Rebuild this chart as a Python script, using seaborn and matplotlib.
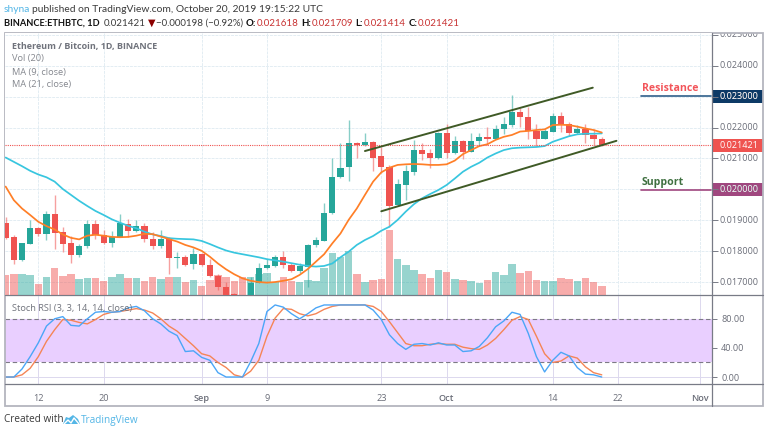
import matplotlib
matplotlib.use('Agg')
import matplotlib.pyplot as plt
from matplotlib.lines import Line2D
from matplotlib.patches import Rectangle, Polygon
import pandas as pd
import seaborn as sns

W, H = 768, 434

# days counted from Aug 12, prices in thousandths of a BTC
days = list(range(-4, 70))
opens = [18.90, 18.45, 17.71, 18.24, 18.75, 18.54, 19.21, 18.62, 18.25, 17.88,
         18.15, 18.88, 18.51, 18.26, 18.47, 18.87, 18.65, 18.81, 18.39, 18.17,
         18.41, 17.79, 17.80, 17.57, 17.91, 17.55, 17.20, 16.85, 16.60, 16.50,
         16.50, 16.98, 17.44, 17.52, 17.81, 17.56, 17.35, 17.50, 18.19, 18.34,
         19.22, 20.39, 20.71, 21.50, 21.42, 21.53, 21.07, 20.73, 19.48, 20.15,
         20.56, 21.26, 21.16, 21.01, 21.82, 21.17, 21.58, 21.22, 21.57, 21.69,
         21.64, 21.94, 22.09, 22.50, 22.35, 21.90, 21.64, 21.87, 22.37, 22.11,
         21.82, 21.95, 21.76, 21.618]
highs = [19.11, 18.53, 18.27, 19.01, 18.77, 19.29, 19.82, 18.77, 18.49, 18.23,
         19.01, 19.01, 18.68, 18.66, 19.20, 19.03, 19.01, 18.90, 18.63, 18.68,
         18.47, 17.98, 17.87, 18.09, 17.93, 17.73, 17.25, 16.99, 16.65, 16.55,
         17.17, 17.60, 17.73, 17.86, 18.00, 17.63, 17.60, 18.23, 18.47, 19.55,
         21.00, 21.51, 22.24, 21.54, 21.81, 21.57, 21.36, 20.79, 20.35, 20.79,
         21.60, 21.51, 21.31, 21.87, 22.11, 21.72, 21.60, 21.81, 21.83, 22.01,
         22.08, 22.33, 23.04, 22.62, 22.67, 22.11, 21.94, 22.48, 22.51, 22.19,
         22.08, 22.10, 21.94, 21.709]
lows = [18.40, 17.57, 17.69, 18.23, 18.50, 18.36, 18.07, 17.98, 17.63, 17.80,
        18.09, 18.39, 18.23, 18.12, 18.45, 18.47, 18.63, 18.31, 18.08, 18.11,
        17.25, 17.44, 17.52, 17.41, 17.52, 17.15, 16.74, 16.40, 16.30, 16.20,
        16.40, 16.96, 17.41, 17.50, 17.47, 17.32, 17.30, 16.85, 18.12, 18.32,
        19.20, 20.37, 20.28, 21.03, 21.40, 20.59, 20.54, 18.79, 19.46, 19.65,
        20.45, 20.95, 20.69, 20.99, 21.00, 21.14, 20.99, 21.21, 21.40, 21.43,
        21.63, 21.79, 22.01, 22.03, 21.63, 21.40, 21.62, 21.84, 21.87, 21.74,
        21.80, 21.51, 21.42, 21.414]
closes = [18.43, 17.71, 18.25, 18.75, 18.55, 19.21, 18.60, 18.23, 17.88, 18.18,
          18.88, 18.51, 18.25, 18.47, 18.90, 18.65, 18.81, 18.38, 18.17, 18.39,
          17.79, 17.80, 17.56, 17.91, 17.54, 17.19, 16.84, 16.50, 16.40, 16.30,
          16.98, 17.45, 17.54, 17.81, 17.54, 17.35, 17.52, 18.20, 18.35, 19.23,
          20.40, 20.69, 21.51, 21.42, 21.53, 21.03, 20.71, 19.46, 20.17, 20.59,
          21.26, 21.14, 21.01, 21.82, 21.17, 21.58, 21.21, 21.58, 21.68, 21.64,
          21.94, 22.10, 22.51, 22.33, 21.88, 21.64, 21.88, 22.37, 22.08, 21.82,
          21.95, 21.76, 21.63, 21.421]
volumes = [61, 64, 62, 59, 34, 53, 82, 57, 64, 48, 51, 51, 41, 54, 62, 51, 51,
           43, 55, 48, 55, 53, 39, 45, 27, 46, 60, 53, 41, 53, 55, 64, 66, 38,
           55, 43, 39, 45, 42, 80, 126, 113, 131, 62, 39, 45, 48, 194, 107, 89,
           75, 63, 52, 75, 68, 48, 45, 42, 36, 45, 68, 60, 93, 66, 73, 45, 42,
           42, 52, 48, 41, 51, 39, 27]
ma9 = [20.09, 19.65, 19.38, 19.17, 18.95, 18.81, 18.70, 18.54, 18.43, 18.38,
       18.50, 18.53, 18.50, 18.46, 18.45, 18.46, 18.50, 18.56, 18.55, 18.47,
       18.39, 18.31, 18.20, 18.12, 18.01, 17.82, 17.60, 17.41, 17.25, 17.12,
       17.04, 17.00, 16.98, 17.00, 17.04, 17.09, 17.23, 17.42, 17.66, 17.90,
       18.25, 18.57, 19.01, 19.38, 19.82, 20.25, 20.55, 20.70, 20.79, 20.81,
       20.82, 20.81, 20.79, 20.79, 20.81, 20.93, 21.14, 21.27, 21.40, 21.46,
       21.60, 21.70, 21.76, 21.87, 21.89, 21.92, 21.94, 22.08, 22.09, 22.08,
       22.03, 21.97, 21.92, 21.84]
ma21 = [21.03, 20.89, 20.75, 20.60, 20.48, 20.39, 20.25, 20.01, 19.82, 19.63,
        19.46, 19.30, 19.17, 19.03, 18.92, 18.82, 18.74, 18.63, 18.54, 18.49,
        18.42, 18.40, 18.39, 18.38, 18.33, 18.23, 18.12, 18.02, 17.95, 17.90,
        17.85, 17.80, 17.74, 17.70, 17.66, 17.61, 17.56, 17.52, 17.50, 17.52,
        17.60, 17.80, 17.98, 18.20, 18.36, 18.49, 18.66, 18.79, 19.01, 19.28,
        19.52, 19.71, 19.85, 19.98, 20.14, 20.35, 20.57, 20.73, 20.86, 21.03,
        21.16, 21.27, 21.33, 21.35, 21.36, 21.37, 21.40, 21.54, 21.63, 21.72,
        21.78, 21.80, 21.80, 21.81]
stoch_k = [0, 0, 11, 28, 47, 70, 80, 83, 71, 70, 80, 89, 90, 89, 90, 95, 97, 91,
           80, 73, 63, 57, 35, 36, 27, 23, 6, 0, 0, 0, 21, 46, 90, 99, 96, 87,
           80, 87, 95, 99, 99, 99, 99, 99, 99, 92, 79, 58, 46, 38, 45, 46, 44,
           47, 44, 44, 35, 36, 42, 54, 69, 77, 89, 86, 60, 28, 7, 23, 34, 29,
           13, 4, 3, 0]
stoch_d = [0, 0, 3, 12, 28, 49, 65, 79, 78, 75, 73, 79, 86, 89, 90, 92, 94, 92,
           88, 80, 70, 63, 53, 43, 32, 29, 20, 13, 3, 0, 8, 23, 56, 81, 94, 93,
           87, 84, 87, 93, 97, 99, 99, 99, 99, 97, 90, 76, 61, 46, 43, 43, 45,
           46, 45, 45, 41, 39, 38, 44, 53, 65, 78, 83, 79, 56, 32, 20, 22, 29,
           26, 14, 6, 3]

upper_channel_days = [40.0, 67.9]
upper_channel_prices = [21.24, 23.29]
lower_channel_days = [42.0, 70.8]
lower_channel_prices = [19.29, 21.57]

price_ticks = [17, 18, 19, 20, 21, 22, 23, 24, 25]
time_ticks = [0, 8, 20, 28, 42, 50, 63, 71, 81]
time_labels = ['12', '20', 'Sep', '9', '23', 'Oct', '14', '22', 'Nov']
last_price = 21.421
resistance = 23.0
support = 20.0

GREEN = '#26a69a'
RED = '#ef5350'
GRID = '#e3edf3'
AXIS = '#787b86'
LABEL = '#6a6d78'


def axes_px(fig, left, top, right, bottom):
    '''
    makes axes from pixel positions measured from the top left of the image
    '''
    return fig.add_axes([left / W, 1 - bottom / H,
                         (right - left) / W, (bottom - top) / H])


def fig_text(fig, x, y, text, **kwargs):
    kwargs.setdefault('va', 'center')
    return fig.text(x / W, 1 - y / H, text, **kwargs)


def text_run(fig, x, y, parts, size):
    '''
    writes (text, colour, weight, gap) parts one after the other from pixel x
    '''
    renderer = fig.canvas.get_renderer()
    for text, color, weight, gap in parts:
        t = fig_text(fig, x, y, text, color=color, fontweight=weight,
                     fontsize=size, family=['Lato', 'DejaVu Sans'])
        x = x + t.get_window_extent(renderer).width + gap


def draw_main(fig):
    grid_ax = axes_px(fig, 5, 33, 712, 295)
    vol_ax = axes_px(fig, 5, 33, 712, 295)
    cax = axes_px(fig, 5, 33, 712, 295)
    for zorder, a in enumerate([grid_ax, vol_ax, cax]):
        a.set_zorder(zorder + 1)
    vol_ax.patch.set_visible(False)
    cax.patch.set_visible(False)

    direction = ['up' if c >= o else 'down' for o, c in zip(opens, closes)]
    table = pd.DataFrame({'day': days, 'volume': volumes,
                          'direction': direction})
    sns.barplot(data=table, x='day', y='volume', hue='direction',
                palette={'up': GREEN, 'down': RED}, native_scale=True,
                dodge=False, width=0.92, alpha=0.48, saturation=1,
                legend=False, errorbar=None, linewidth=0, ax=vol_ax)

    colors = [GREEN if d == 'up' else RED for d in direction]
    cax.vlines(days, lows, highs, colors=colors, linewidth=1, alpha=0.55)
    bottoms = [min(o, c) for o, c in zip(opens, closes)]
    heights = [abs(o - c) for o, c in zip(opens, closes)]
    cax.bar(days, heights, bottom=bottoms, width=0.76, color=colors,
            linewidth=0)

    sns.lineplot(x=days, y=ma21, color='#38c6df', linewidth=1.25, ax=cax)
    sns.lineplot(x=days, y=ma9, color='#ff7f27', linewidth=1.25, ax=cax)
    cax.axhline(last_price, color=RED, linewidth=0.8, linestyle=(0, (1, 1)))
    for xs, ys in [(upper_channel_days, upper_channel_prices),
                   (lower_channel_days, lower_channel_prices)]:
        sns.lineplot(x=xs, y=ys, color='#3f5a26', linewidth=1.4, ax=cax)

    for a in [grid_ax, vol_ax, cax]:
        a.set_xlim(-4.08, 82.5)
        a.set_xlabel('')
        a.set_ylabel('')
    grid_ax.set_ylim(16.58, 25.06)
    cax.set_ylim(16.58, 25.06)
    vol_ax.set_ylim(0, 786)

    vol_ax.axis('off')
    cax.axis('off')
    grid_ax.set_xticks(time_ticks)
    grid_ax.set_yticks(price_ticks)
    grid_ax.grid(True, color=GRID, linewidth=0.7, linestyle=(0, (3, 1)))
    grid_ax.tick_params(left=False, bottom=False, labelleft=False,
                        labelbottom=False, right=True, length=4, width=0.7,
                        color=AXIS)
    for s in grid_ax.spines.values():
        s.set_visible(False)

    scale = axes_px(fig, 712, 33, 763, 295)
    scale.set_ylim(16.58, 25.06)
    scale.set_xlim(0, 51)
    scale.axis('off')
    for p in price_ticks:
        scale.text(7, p, f'{p / 1000:.6f}', color=LABEL, fontsize=6.5,
                   va='center', clip_on=True)
    boxes = [(resistance, '#0d3a66'), (support, '#a0477f'), (last_price, RED)]
    for p, color in boxes:
        scale.add_patch(Rectangle((0.5, p - 0.21), 50.5, 0.42, color=color,
                                  linewidth=0))
        scale.text(7, p, f'{p / 1000:.6f}', color='white', fontsize=6.5,
                   va='center')


def draw_stoch(fig):
    ax = axes_px(fig, 5, 295.5, 712, 384.3)
    ax.axhspan(20, 80, color='#e9cfff', linewidth=0)
    ax.set_xticks(time_ticks)
    ax.set_xticklabels(time_labels)
    ax.set_yticks([0, 40, 80])
    ax.set_yticklabels(['0.00', '40.00', '80.00'])
    ax.grid(True, color='#dcd8ee', linewidth=0.7)
    ax.set_axisbelow(True)
    for level in [20, 80]:
        ax.axhline(level, color='#7d7a86', linewidth=0.8,
                   linestyle=(0, (4, 2.5)))
    sns.lineplot(x=days, y=stoch_d, color='#f58556', linewidth=1, ax=ax)
    sns.lineplot(x=days, y=stoch_k, color='#4ba6f7', linewidth=1, ax=ax)
    ax.set_xlim(-4.08, 82.5)
    ax.set_ylim(-10, 112)
    ax.set_xlabel('')
    ax.set_ylabel('')
    ax.yaxis.tick_right()
    ax.tick_params(axis='both', length=3.5, width=0.7, color=AXIS,
                   labelcolor=LABEL, labelsize=6.6, pad=3)
    ax.tick_params(axis='x', pad=3.5, labelsize=6.6)
    for label in ax.get_xticklabels():
        if label.get_text() in ['Sep', 'Oct', 'Nov']:
            label.set_fontweight('semibold')
    for s in ax.spines.values():
        s.set_visible(False)


def draw_frame(fig):
    fig.add_artist(Rectangle((5 / W, 1 - 406 / H), 758 / W, 373 / H,
                             fill=False, edgecolor='#b4b5be', linewidth=1.3,
                             transform=fig.transFigure))
    rules = [([712, 712], [33, 406]), ([5, 763], [295, 295]),
             ([5, 763], [384.3, 384.3])]
    for xs, ys in rules:
        fig.add_artist(Line2D([x / W for x in xs], [1 - y / H for y in ys],
                              color=AXIS, linewidth=0.9))
    # resistance and support levels
    fig.add_artist(Line2D([641 / W, 711 / W], [1 - 96 / H] * 2,
                          color='#2f5f8a', linewidth=1.2))
    fig.add_artist(Line2D([641 / W, 711 / W], [1 - 189.5 / H] * 2,
                          color='#a0477f', linewidth=1.2))


def draw_text(fig):
    dark = '#3b3b3b'
    black = '#111111'
    price = '#c83232'
    text_run(fig, 4, 9, [('shyna', '#54b6e6', 'normal', 2),
                         ('published on TradingView.com, October 20, 2019 '
                          '19:15:22 UTC', dark, 'normal', 0)], 7.4)
    text_run(fig, 4, 23, [('BINANCE:ETHBTC, 1D', black, 'bold', 0)], 6.7)
    text_run(fig, 104, 23, [('0.021421', dark, 'normal', 1.5),
                            ('\u25bc', '#8b0000', 'normal', 1),
                            ('\u22120.000198 (\u22120.92%)', dark, 'normal', 3),
                            ('O:', black, 'bold', 0),
                            ('0.021618', price, 'normal', 3),
                            ('H:', black, 'bold', 0),
                            ('0.021709', price, 'normal', 3),
                            ('L:', black, 'bold', 0),
                            ('0.021414', price, 'normal', 3),
                            ('C:', black, 'bold', 0),
                            ('0.021421', price, 'normal', 0)], 7.0)
    gray = '#70737c'
    fig_text(fig, 12, 46, 'Ethereum / Bitcoin, 1D, BINANCE', color=gray,
             fontsize=6.5, fontweight='bold')
    fig_text(fig, 12, 59, 'Vol (20)', color='#85888f', fontsize=6.7)
    fig_text(fig, 12, 72, 'MA (9, close)', color='#85888f', fontsize=6.7)
    fig_text(fig, 12, 85, 'MA (21, close)', color='#85888f', fontsize=6.7)
    fig_text(fig, 12, 308, 'Stoch RSI (3, 3, 14, 14, close)', color=gray,
             fontsize=6.7)
    fig_text(fig, 642, 88.5, 'Resistance', color='#f2555a', fontsize=7.6,
             fontweight='bold')
    fig_text(fig, 642, 182, 'Support', color='#3f7040', fontsize=7.6,
             fontweight='bold')
    fig_text(fig, 4, 420, 'Created with', color=dark, fontsize=7.2)
    fig_text(fig, 81, 420, 'TradingView', color='#54b6e6', fontsize=7.2)
    # cloud logo with the white wave across it
    cloud = [(63, 424), (66, 417), (69, 418), (73, 415), (78, 419), (80, 424)]
    fig.add_artist(Polygon([(x / W, 1 - y / H) for x, y in cloud],
                           closed=True, color='#54b6e6', linewidth=0,
                           transform=fig.transFigure))
    wave = [(64, 424), (68, 420), (71, 423), (74, 418), (79, 424)]
    fig.add_artist(Line2D([x / W for x, y in wave],
                          [1 - y / H for x, y in wave], color='white',
                          linewidth=1))


sns.set_style('white')
plt.rcParams['font.family'] = ['Open Sans', 'DejaVu Sans']
fig = plt.figure(figsize=(W / 100, H / 100), dpi=100)
fig.canvas.draw()
draw_main(fig)
draw_stoch(fig)
draw_frame(fig)
draw_text(fig)
fig.savefig('out.png', dpi=100)
